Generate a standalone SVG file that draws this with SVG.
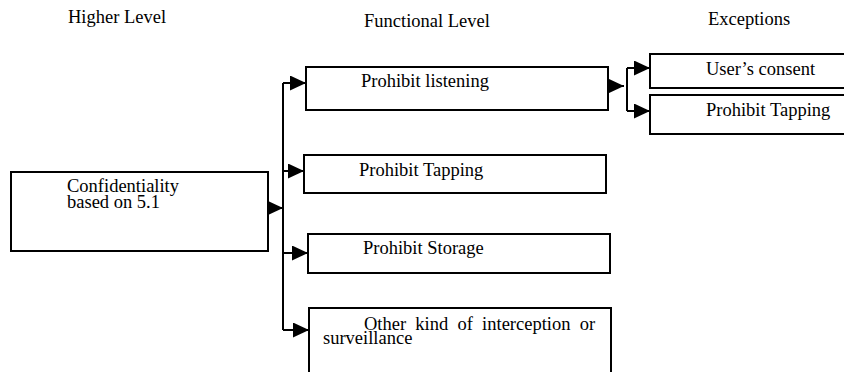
<svg xmlns="http://www.w3.org/2000/svg" width="844" height="372" viewBox="0 0 844 372" font-family="'Liberation Serif', 'Times New Roman', 'DejaVu Serif', serif">
  <style>
    text { font-family: "Liberation Serif", "Times New Roman", "DejaVu Serif", serif; font-size: 18.5px; fill: #000; }
    .box { fill: #fff; stroke: #000; stroke-width: 2; }
    .wire { fill: none; stroke: #000; stroke-width: 2; }
  </style>
  <defs>
    <marker id="arrow" markerUnits="userSpaceOnUse" markerWidth="17" markerHeight="16" refX="16" refY="7.5" orient="auto" viewBox="0 0 17 16">
      <path d="M0,0 L16,7.5 L0,15 Z" fill="#000"/>
    </marker>
  </defs>
  <rect width="844" height="372" fill="#fff"/>

  <!-- column headings -->
  <g id="headings">
    <text x="68" y="23">Higher Level</text>
    <text x="364" y="27">Functional Level</text>
    <text x="708" y="25">Exceptions</text>
  </g>

  <!-- connectors -->
  <g id="connectors">
    <!-- main trunk -->
    <path class="wire" d="M283,83 V330"/>
    <path class="wire" d="M268,208 H283" marker-end="url(#arrow)"/>
    <path class="wire" d="M283,83 H306" marker-end="url(#arrow)"/>
    <path class="wire" d="M283,171 H304" marker-end="url(#arrow)"/>
    <path class="wire" d="M283,253 H308" marker-end="url(#arrow)"/>
    <path class="wire" d="M283,330 H309" marker-end="url(#arrow)"/>
    <!-- exceptions trunk -->
    <path class="wire" d="M608,86 H624" marker-end="url(#arrow)"/>
    <path class="wire" d="M627,68 V111"/>
    <path class="wire" d="M627,68 H650" marker-end="url(#arrow)"/>
    <path class="wire" d="M627,111 H650" marker-end="url(#arrow)"/>
  </g>

  <g id="confidentiality">
    <rect class="box" x="11" y="172" width="257" height="79"/>
    <text x="67" y="192">Confidentiality</text>
    <text x="67" y="208">based on 5.1</text>
  </g>

  <g id="prohibit-listening">
    <rect class="box" x="306" y="67" width="302" height="43"/>
    <text x="361" y="87">Prohibit listening</text>
  </g>

  <g id="prohibit-tapping">
    <rect class="box" x="304" y="155" width="302" height="38"/>
    <text x="359" y="176">Prohibit Tapping</text>
  </g>

  <g id="prohibit-storage">
    <rect class="box" x="308" y="234" width="302" height="39"/>
    <text x="363" y="254">Prohibit Storage</text>
  </g>

  <g id="other-interception">
    <rect class="box" x="309" y="308" width="302" height="70"/>
    <text x="364" y="330" word-spacing="4.6">Other kind of interception or</text>
    <text x="323" y="344">surveillance</text>
  </g>

  <g id="users-consent">
    <rect class="box" x="650" y="54" width="200" height="34"/>
    <text x="706" y="75">User’s consent</text>
  </g>

  <g id="exception-tapping">
    <rect class="box" x="650" y="95" width="200" height="39"/>
    <text x="706" y="116">Prohibit Tapping</text>
  </g>
</svg>
